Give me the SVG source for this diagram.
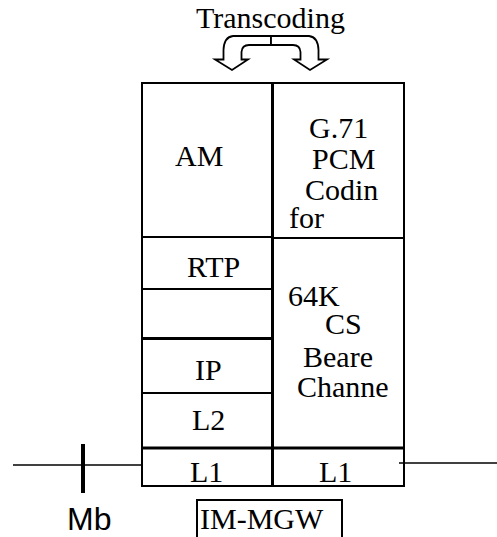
<svg xmlns="http://www.w3.org/2000/svg" width="497" height="537" viewBox="0 0 497 537">
<style>
.cell{fill:#fff;stroke:#000;stroke-width:2}
.t{font-family:"Liberation Serif","DejaVu Serif",serif;font-size:30px;fill:#000}
.s{font-family:"Liberation Sans",Arial,sans-serif;font-size:32px;fill:#000}
.ln{stroke:#000;fill:none}
.arr{fill:#fff;stroke:#000;stroke-width:1.8;stroke-linejoin:miter}
</style>
<rect width="497" height="537" fill="#fff"/>
<g id="am"><rect class="cell" x="142" y="83" width="131" height="154"/><text class="t" x="175" y="166">AM</text></g>
<g id="g711"><rect class="cell" x="273" y="83" width="131" height="155"/>
<text class="t" x="309" y="138">G.71</text>
<text class="t" x="312" y="169">PCM</text>
<text class="t" x="305" y="200">Codin</text>
<text class="t" x="289" y="228">for</text></g>
<g id="rtp"><rect class="cell" x="142" y="237" width="131" height="52"/><text class="t" x="187" y="277">RTP</text></g>
<g id="empty"><rect class="cell" x="142" y="289" width="131" height="50"/></g>
<g id="ip"><rect class="cell" x="142" y="339" width="131" height="54"/><text class="t" x="195" y="380">IP</text></g>
<g id="l2"><rect class="cell" x="142" y="393" width="131" height="55"/><text class="t" x="192" y="430">L2</text></g>
<g id="cs"><rect class="cell" x="273" y="238" width="131" height="210"/>
<text class="t" x="288" y="306">64K</text>
<text class="t" x="325" y="334">CS</text>
<text class="t" x="303" y="367">Beare</text>
<text class="t" x="297" y="397">Channe</text></g>
<g id="l1a"><rect class="cell" x="142" y="448" width="130" height="38"/><text class="t" x="190" y="482">L1</text></g>
<g id="l1b"><rect class="cell" x="272" y="448" width="132" height="38"/><text class="t" x="319" y="482">L1</text></g>
<g id="imgw"><rect class="cell" x="197" y="500" width="145" height="45"/><text class="t" x="200" y="529">IM-MGW</text></g>
<g id="mb"><text class="s" x="67" y="530">Mb</text></g>
<g id="trans"><text class="t" x="196" y="28">Transcoding</text></g>
<g id="connectors">
<line class="ln" x1="142" y1="338.5" x2="273" y2="338.5" stroke-width="3"/>
<line class="ln" x1="142" y1="448" x2="404" y2="448" stroke-width="3"/>
<line class="ln" x1="272.5" y1="83" x2="272.5" y2="486" stroke-width="3"/>
<line class="ln" x1="13" y1="465" x2="143" y2="465" stroke-width="1.5"/>
<line class="ln" x1="83" y1="444" x2="83" y2="493" stroke-width="4"/>
<line class="ln" x1="399" y1="463" x2="497" y2="463" stroke-width="1.5"/>
<path class="arr" d="M271,36 L233,36 Q224,37 223.5,50 L223.5,59.5 L215,59.5 L232,70 L248,59.5 L241.5,59.5 L241.5,52 Q242,45 249,45 L271,45 Z"/>
<path class="arr" d="M271,36 L309,36 Q318,37 318.5,50 L318.5,59.5 L327,59.5 L310,70 L294,59.5 L300.5,59.5 L300.5,52 Q300,45 293,45 L271,45 Z"/>
</g>
</svg>
